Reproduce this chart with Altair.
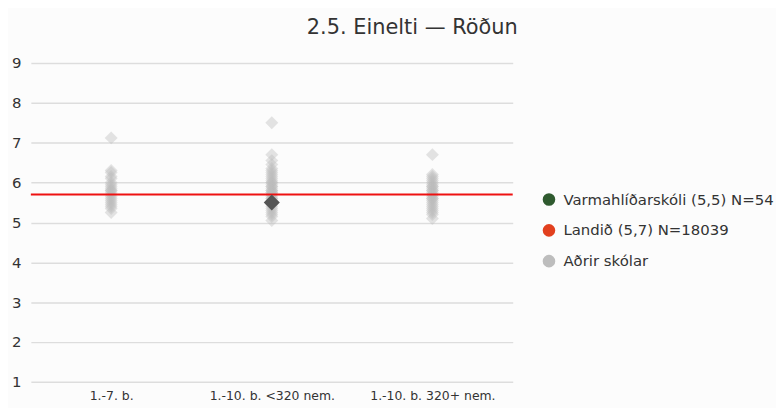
import altair as alt
import pandas as pd

categories = ["1.-7. b.", "1.-10. b. <320 nem.", "1.-10. b. 320+ nem."]

cat1_values = [7.12, 6.3, 6.25, 6.15, 6.1, 6.0, 5.95, 5.9, 5.85, 5.8, 5.8, 5.75, 5.7,
               5.65, 5.6, 5.55, 5.5, 5.45, 5.4, 5.35, 5.25]
cat2_values = [7.5, 6.7, 6.55, 6.45, 6.35, 6.3, 6.25, 6.2, 6.15, 6.1, 6.05, 6.0, 6.0,
               5.95, 5.9, 5.9, 5.85, 5.8, 5.8, 5.75, 5.75, 5.7, 5.7, 5.65, 5.6, 5.6,
               5.55, 5.5, 5.45, 5.4, 5.35, 5.3, 5.25, 5.2, 5.15, 5.05]
cat3_values = [6.7, 6.2, 6.15, 6.1, 6.05, 6.0, 5.95, 5.9, 5.9, 5.85, 5.8, 5.8, 5.75,
               5.7, 5.7, 5.65, 5.6, 5.6, 5.55, 5.5, 5.45, 5.4, 5.35, 5.3, 5.25, 5.2, 5.1]

school_category = "1.-10. b. <320 nem."
school_value = 5.5
national_value = 5.7

series_names = ["Varmahlíðarskóli (5,5) N=54", "Landið (5,7) N=18039", "Aðrir skólar"]
series_colors = ["#2f5a2f", "#e2401e", "#bdbdbd"]

rows = []
for cat, vals in zip(categories, [cat1_values, cat2_values, cat3_values]):
    for v in vals:
        rows.append({"cat": cat, "value": v})
others = pd.DataFrame(rows)
school = pd.DataFrame([{"cat": school_category, "value": school_value}])
national = pd.DataFrame([{"value": national_value}])
legend_df = pd.DataFrame({"series": series_names, "cat": [categories[0]] * 3,
                          "value": [5.0] * 3})

FONT = "DejaVu Sans"

x_enc = alt.X("cat:N", sort=categories, title=None,
              scale=alt.Scale(domain=categories, paddingInner=0, paddingOuter=0),
              axis=alt.Axis(labelAngle=0, ticks=False, domain=False, grid=False,
                            labelFontSize=12.5, labelColor="#333", labelPadding=8))
y_scale = alt.Scale(domain=[1, 9], nice=False, zero=False)
y_enc = alt.Y("value:Q", title=None, scale=y_scale,
              axis=alt.Axis(values=list(range(1, 10)), ticks=False, domain=False,
                            gridColor="#dddddd", gridWidth=1.5, labelFontSize=15,
                            labelColor="#333", labelPadding=10))

pts = alt.Chart(others).mark_point(shape="diamond", filled=True, size=170,
                                   color="#bbbbbb", opacity=0.4).encode(x=x_enc, y=y_enc)

rule = alt.Chart(national).mark_rule(color="#ee1111", strokeWidth=2).encode(
    y=alt.Y("value:Q", scale=y_scale))

sch = alt.Chart(school).mark_point(shape="diamond", filled=True, size=260,
                                   color="#555555", opacity=1).encode(
    x=alt.X("cat:N", sort=categories), y=alt.Y("value:Q", scale=y_scale))

leg = alt.Chart(legend_df).mark_point(filled=True, shape="circle", size=10).encode(
    x=alt.X("cat:N", sort=categories),
    y=alt.Y("value:Q", scale=y_scale),
    opacity=alt.value(0),
    color=alt.Color("series:N", sort=series_names,
                    scale=alt.Scale(domain=series_names, range=series_colors),
                    legend=alt.Legend(title=None, orient="none", legendX=514, legendY=130,
                                      symbolType="circle", symbolSize=160,
                                      symbolOpacity=1, symbolStrokeWidth=0,
                                      labelFontSize=15, labelColor="#333",
                                      labelFont=FONT, rowPadding=15, labelLimit=0,
                                      labelOffset=7)))

chart = alt.layer(pts, rule, sch, leg).properties(
    width=485, height=321,
    title=alt.TitleParams("2.5. Einelti — Röðun", anchor="end", frame="group",
                          fontSize=21, fontWeight="normal", color="#333",
                          font=FONT, offset=18, dx=5),
    padding={"left": 3, "top": 8, "right": 2, "bottom": 5},
    background="#fcfcfc",
).configure_view(stroke=None).configure_axis(labelFont=FONT)

chart.save("out.html", embed_options={"renderer": "svg", "actions": False})
